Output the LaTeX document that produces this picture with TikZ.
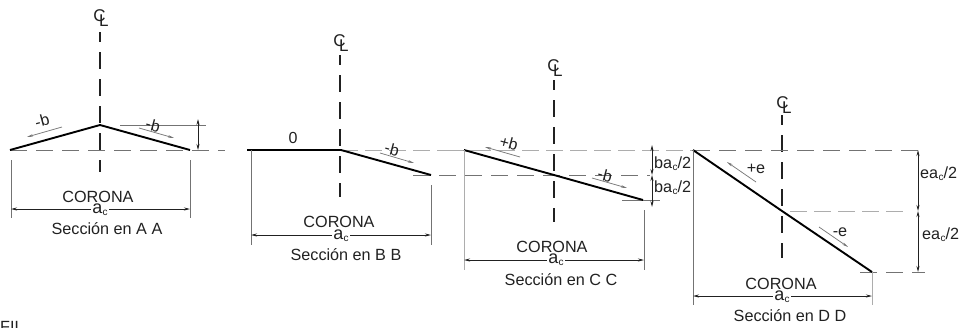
\documentclass[tikz,border=0pt]{standalone}
\usepackage{fontspec}
\setmainfont{Liberation Sans}
\usetikzlibrary{arrows.meta}
\definecolor{inkd}{gray}{0.13}
\definecolor{thinc}{gray}{0.45}
\definecolor{lightc}{gray}{0.68}
\newcommand{\acs}{a\kern0.02em\raisebox{-0.12em}{\fontsize{10}{10}\selectfont c}}
\newcommand{\clsym}{C\kern-0.38em\raisebox{-0.28em}{L}}
\tikzset{
  x=1pt,y=-1pt,
  roof/.style={draw=black,line width=1.9pt,line join=round},
  axis/.style={draw=inkd,line width=1.3pt,dash pattern=on 17pt off 10pt,dash phase=7pt},
  guide/.style={draw=thinc,line width=0.9pt,dash pattern=on 17pt off 9pt},
  faint/.style={draw=lightc,line width=0.8pt,dash pattern=on 17pt off 7pt},
  extline/.style={draw=thinc,line width=0.8pt},
  extfaint/.style={draw=lightc,line width=0.8pt},
  dimline/.style={draw=inkd,line width=0.8pt,{Stealth[length=6pt,width=3pt]}-{Stealth[length=6pt,width=3pt]}},
  slope/.style={draw=thinc,line width=0.7pt,-{Stealth[length=6pt,width=2.5pt]}},
  lab/.style={font=\fontsize{16.2}{18}\selectfont,text=inkd,inner sep=0pt},
  small/.style={font=\fontsize{16}{18}\selectfont,text=inkd,inner sep=0pt},
  aclab/.style={font=\fontsize{18}{20}\selectfont,text=inkd,fill=white,inner sep=1.5pt},
  cl/.style={font=\fontsize{17}{19}\selectfont,text=inkd,inner sep=0pt},
}
\begin{document}
\begin{tikzpicture}
\useasboundingbox (0,0) rectangle (962,327);
\fill[white] (0,0) rectangle (962,327);

% ---------- Seccion A A
\coordinate (aL) at (10,150); \coordinate (aM) at (100,125); \coordinate (aR) at (190,150);
\node[cl] (aCL) at (101,18) {\clsym};
\coordinate (aAxT) at (100,32); \coordinate (aAxB) at (100,172);
\draw[axis] (aAxT) -- (aAxB);
\coordinate (aG1) at (225,150); \draw[guide] (aL) -- (aG1);
\coordinate (aG2a) at (120,125); \coordinate (aG2b) at (206,125); \draw[extline] (aG2a) -- (aG2b);
\draw[roof] (aL) -- (aM) -- (aR);
\coordinate (aH1) at (198,119); \coordinate (aH2) at (198,150); \draw[dimline] (aH1) -- (aH2);
\coordinate (aE1a) at (11,160); \coordinate (aE1b) at (11,218); \draw[extline] (aE1a) -- (aE1b);
\coordinate (aE2a) at (190,160); \coordinate (aE2b) at (190,218); \draw[extline] (aE2a) -- (aE2b);
\coordinate (aD1) at (11,209); \coordinate (aD2) at (190,209); \draw[dimline] (aD1) -- (aD2);
\node[lab] (aCor) at (98,197) {CORONA};
\node[aclab] (aAc) at (100,210) {\acs};
\node[lab] (aSec) at (107,229) {Sección en A A};
\node[small,rotate=15] (aB1) at (42,121) {-b};
\coordinate (aS1a) at (62,127); \coordinate (aS1b) at (27,137); \draw[slope] (aS1a) -- (aS1b);
\node[small,rotate=-15] (aB2) at (153,125) {-b};
\coordinate (aS2a) at (139,128); \coordinate (aS2b) at (174,138); \draw[slope] (aS2a) -- (aS2b);

% ---------- Seccion B B
\coordinate (bL) at (247,150); \coordinate (bM) at (341,150); \coordinate (bR) at (431,175);
\node[cl] (bCL) at (341,43) {\clsym};
\coordinate (bAxT) at (340,55); \coordinate (bAxB) at (340,197);
\draw[axis] (bAxT) -- (bAxB);
\coordinate (bG1) at (480,150); \draw[faint] (bM) -- (bG1);
\coordinate (bG2a) at (413,175); \coordinate (bG2b) at (650,175); \draw[guide] (bG2a) -- (bG2b);
\draw[roof] (bL) -- (bM) -- (bR);
\coordinate (bE1a) at (251,150); \coordinate (bE1b) at (251,245); \draw[extline] (bE1a) -- (bE1b);
\coordinate (bE2a) at (431,185); \coordinate (bE2b) at (431,245); \draw[extline] (bE2a) -- (bE2b);
\coordinate (bD1) at (251,235); \coordinate (bD2) at (431,235); \draw[dimline] (bD1) -- (bD2);
\node[lab] (bCor) at (339,222) {CORONA};
\node[aclab] (bAc) at (341,236) {\acs};
\node[lab] (bSec) at (346,255) {Sección en B B};
\node[small] (bZero) at (293,138) {0};
\node[small,rotate=-15] (bB) at (392,149) {-b};
\coordinate (bSa) at (380,153); \coordinate (bSb) at (414,163); \draw[slope] (bSa) -- (bSb);

% ---------- Seccion C C
\coordinate (cL) at (464,150); \coordinate (cM) at (554,175); \coordinate (cR) at (643,200);
\node[cl] (cCL) at (555,68) {\clsym};
\coordinate (cAxT) at (554,80); \coordinate (cAxB) at (554,222);
\draw[axis] (cAxT) -- (cAxB);
\coordinate (cG1a) at (450,150); \coordinate (cG1b) at (695,150); \draw[faint] (cG1a) -- (cG1b);
\coordinate (cG3a) at (622,200); \coordinate (cG3b) at (660,200); \draw[extline] (cG3a) -- (cG3b);
\draw[roof] (cL) -- (cM) -- (cR);
\coordinate (cE1a) at (464,150); \coordinate (cE1b) at (464,270); \draw[extfaint] (cE1a) -- (cE1b);
\coordinate (cE2a) at (644,210); \coordinate (cE2b) at (644,270); \draw[extline] (cE2a) -- (cE2b);
\coordinate (cD1) at (464,260); \coordinate (cD2) at (644,260); \draw[dimline] (cD1) -- (cD2);
\coordinate (cH1) at (652,145); \coordinate (cH2) at (652,175); \coordinate (cH3) at (652,207);
\draw[dimline] (cH1) -- (cH2); \draw[dimline] (cH2) -- (cH3);
\node[lab] (cCor) at (552,247) {CORONA};
\node[aclab] (cAc) at (556,260) {\acs};
\node[lab] (cSec) at (561,280) {Sección en C C};
\node[small,rotate=-15] (cB1) at (509,143) {+b};
\coordinate (cS1a) at (520,157); \coordinate (cS1b) at (485,147); \draw[slope] (cS1a) -- (cS1b);
\node[small,rotate=-15] (cB2) at (605,175) {-b};
\coordinate (cS2a) at (592,178); \coordinate (cS2b) at (627,188); \draw[slope] (cS2a) -- (cS2b);
\node[lab,anchor=west] (cBa1) at (654,164) {b\acs/2};
\node[lab,anchor=west] (cBa2) at (654,188) {b\acs/2};

% ---------- Seccion D D
\coordinate (dL) at (693,150); \coordinate (dM) at (782,211); \coordinate (dR) at (872,272);
\node[cl] (dCL) at (784,105) {\clsym};
\coordinate (dAxT) at (782,115); \coordinate (dAxB) at (782,258);
\draw[axis] (dAxT) -- (dAxB);
\coordinate (dG1) at (925,150); \draw[guide] (dL) -- (dG1);
\coordinate (dG2a) at (790,211); \coordinate (dG2b) at (905,211); \draw[faint] (dG2a) -- (dG2b);
\coordinate (dG3a) at (860,272); \coordinate (dG3b) at (925,272); \draw[guide] (dG3a) -- (dG3b);
\draw[roof] (dL) -- (dM) -- (dR);
\coordinate (dE1a) at (693,150); \coordinate (dE1b) at (693,305); \draw[extline] (dE1a) -- (dE1b);
\coordinate (dE2a) at (872,272); \coordinate (dE2b) at (872,305); \draw[extfaint] (dE2a) -- (dE2b);
\coordinate (dD1) at (693,296); \coordinate (dD2) at (872,296); \draw[dimline] (dD1) -- (dD2);
\coordinate (dH1) at (918,150); \coordinate (dH2) at (918,211); \coordinate (dH3) at (918,272);
\draw[dimline] (dH1) -- (dH2); \draw[dimline] (dH2) -- (dH3);
\node[lab] (dCor) at (781,284) {CORONA};
\node[aclab] (dAc) at (782,297) {\acs};
\node[lab] (dSec) at (790,316) {Sección en D D};
\node[lab] (dE1) at (756,169) {+e};
\coordinate (dS1a) at (756,182); \coordinate (dS1b) at (727,162); \draw[slope] (dS1a) -- (dS1b);
\node[lab] (dE2) at (840,232) {-e};
\coordinate (dS2a) at (819,227); \coordinate (dS2b) at (848,247); \draw[slope] (dS2a) -- (dS2b);
\node[lab,anchor=west] (dEa1) at (920,174) {e\acs/2};
\node[lab,anchor=west] (dEa2) at (922,235) {e\acs/2};

% ---------- cut-off text at the lower edge
\node[lab,anchor=base west] (cut) at (0,332) {FIL};
\end{tikzpicture}
\end{document}
